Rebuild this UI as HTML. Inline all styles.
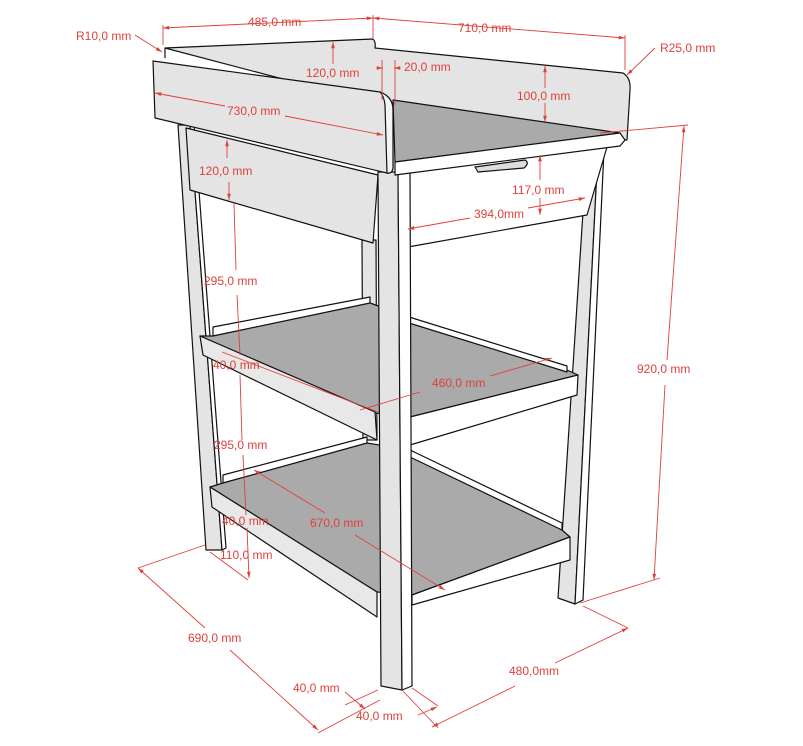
<!DOCTYPE html>
<html><head><meta charset="utf-8"><style>
html,body{margin:0;padding:0;background:#fff;}
svg{display:block;}
text{font-family:"Liberation Sans",sans-serif;font-size:12px;fill:#e0403a;}
</style></head><body>
<svg width="803" height="746" viewBox="0 0 803 746" xmlns="http://www.w3.org/2000/svg">
<defs>
<marker id="a" viewBox="0 0 10 10" refX="10" refY="5" markerWidth="7" markerHeight="7" orient="auto-start-reverse"><path d="M0,2 L10,5 L0,8 z" fill="#e0403a"/></marker>
</defs>
<g stroke="#111" stroke-width="1.2" stroke-linejoin="round">
<!-- back legs -->
<polygon points="362,240 376,240 377,440 363,440" fill="#e4e4e4"/>
<!-- left leg -->
<polygon points="178,125 190,125 222,550 206,550" fill="#e4e4e4"/>
<polygon points="190,125 194,125 226,548 222,550" fill="#fff"/>
<!-- right leg -->
<polygon points="587,150 598,150 575,604 558,598" fill="#e4e4e4"/>
<polygon points="598,150 604,150 583,600 575,604" fill="#fff"/>
<!-- left drawer apron -->
<polygon points="186,128 378,175 373,243 190,190" fill="#e4e4e4"/>
<!-- front apron -->
<polygon points="393,175 607,147 587,215 408,247" fill="#fff"/>
<!-- back rails -->
<polygon points="213,327 370,297 370,305 213,336" fill="#fff"/>
<polygon points="223,475 367,437 367,444 223,483" fill="#fff"/>
<!-- shelf 1 -->
<polygon points="213,336 370,303 409,317 567,370 578,375 410,417 375,413 200,336" fill="#aaa"/>
<polygon points="409,317 567,366 567,372 409,323" fill="#fff"/>
<polygon points="200,336 375,412 377,440 203,355" fill="#e8e8e8"/>
<polygon points="410,417 578,375 577,395 410,445" fill="#fff"/>
<!-- shelf 2 -->
<polygon points="223,483 367,443 410,450 562,530 570,537 412,595 377,592 210,487" fill="#aaa"/>
<polygon points="410,450 562,523 562,530 410,457" fill="#fff"/>
<polygon points="210,487 377,592 377,617 212,507" fill="#e8e8e8"/>
<polygon points="412,595 570,537 570,560 412,605" fill="#fff"/>
<!-- front leg -->
<polygon points="378,172 398,172 402,690 381,686" fill="#e4e4e4"/>
<polygon points="398,172 410,172 412,686 402,690" fill="#fff"/>
<!-- tray back -->
<path d="M165,48 L373,39 Q376,42 375,48 L623,73 Q631,78 630,90 L627,140 L393,108 Z" fill="#e4e4e4"/>
<line x1="165" y1="48" x2="165" y2="58"/>
<!-- floor -->
<polygon points="393,100 620,133 395,162" fill="#aaa"/>
<!-- front rim -->
<polygon points="395,162 620,133 625,140 620,146 395,175" fill="#fff"/>
<!-- left panel -->
<path d="M153,61 L380,92 Q393,97 393,110 L393,168 Q392,174 387,173 L155,118 Z" fill="#e4e4e4"/>
<path d="M380,92 Q393,97 393,110 L393,168 Q392,174 387,173 L385,105 Q384,96 380,92 Z" fill="#f4f4f4"/>
<!-- handle -->
<path d="M475,167 L525,160 Q530,163 524,168 L478,172 Z" fill="#ddd"/>
</g>

<g stroke="#e0403a" stroke-width="0.9" fill="none">
<line x1="135" y1="35" x2="162" y2="52" marker-end="url(#a)"/>
<line x1="163" y1="45" x2="163" y2="25"/><line x1="373" y1="38" x2="373" y2="15"/><line x1="625" y1="70" x2="625" y2="35"/>
<line x1="163" y1="28" x2="373" y2="18" marker-start="url(#a)" marker-end="url(#a)"/>
<line x1="373" y1="18" x2="625" y2="38" marker-start="url(#a)" marker-end="url(#a)"/>
<line x1="655" y1="48" x2="627" y2="75" marker-end="url(#a)"/>
<line x1="333" y1="64" x2="333" y2="42" marker-end="url(#a)"/>
<line x1="377" y1="68" x2="383" y2="68" marker-end="url(#a)"/><line x1="400" y1="68" x2="394" y2="68" marker-end="url(#a)"/>
<line x1="382" y1="60" x2="382" y2="100"/><line x1="395" y1="60" x2="395" y2="105"/>
<line x1="545" y1="88" x2="545" y2="66" marker-end="url(#a)"/><line x1="545" y1="103" x2="545" y2="122" marker-end="url(#a)"/>
<line x1="155" y1="93" x2="225" y2="106" marker-start="url(#a)"/><line x1="285" y1="116" x2="383" y2="135" marker-end="url(#a)"/>
<line x1="227" y1="158" x2="227" y2="140" marker-end="url(#a)"/><line x1="229" y1="182" x2="229" y2="200" marker-end="url(#a)"/>
<line x1="540" y1="180" x2="540" y2="155" marker-end="url(#a)"/><line x1="540" y1="198" x2="540" y2="215" marker-end="url(#a)"/>
<line x1="408" y1="229" x2="470" y2="218" marker-start="url(#a)"/><line x1="528" y1="208" x2="585" y2="198" marker-end="url(#a)"/>
<line x1="600" y1="133" x2="688" y2="125"/><line x1="580" y1="603" x2="660" y2="578"/>
<line x1="667" y1="360" x2="684" y2="126" marker-end="url(#a)"/><line x1="665" y1="385" x2="654" y2="580" marker-end="url(#a)"/>
<line x1="234" y1="203" x2="236" y2="270"/><line x1="237" y1="295" x2="240" y2="355"/><line x1="240" y1="375" x2="242" y2="440"/><line x1="243" y1="455" x2="246" y2="515"/><line x1="247" y1="528" x2="249" y2="578" marker-end="url(#a)"/>
<line x1="360" y1="410" x2="420" y2="392"/><line x1="490" y1="376" x2="552" y2="358" marker-end="url(#a)"/>
<line x1="222" y1="352" x2="378" y2="412"/>
<line x1="254" y1="470" x2="325" y2="513" marker-start="url(#a)"/><line x1="355" y1="535" x2="445" y2="590" marker-end="url(#a)"/>
<line x1="205" y1="545" x2="138" y2="568"/><line x1="210" y1="552" x2="248" y2="580"/>
<line x1="138" y1="568" x2="205" y2="628" marker-start="url(#a)"/><line x1="230" y1="650" x2="318" y2="730" marker-end="url(#a)"/>
<line x1="318" y1="733" x2="380" y2="700"/><line x1="378" y1="690" x2="345" y2="705"/>
<line x1="345" y1="692" x2="365" y2="709" marker-end="url(#a)"/>
<line x1="402" y1="690" x2="438" y2="728"/><line x1="412" y1="688" x2="438" y2="706"/>
<line x1="418" y1="715" x2="437" y2="707" marker-end="url(#a)"/>
<line x1="432" y1="727" x2="515" y2="686" marker-start="url(#a)"/><line x1="555" y1="663" x2="628" y2="628" marker-end="url(#a)"/>
<line x1="583" y1="606" x2="628" y2="628"/>
</g>

<g>
<text x="76" y="40">R10,0 mm</text>
<text x="248" y="26">485,0 mm</text>
<text x="458" y="32">710,0 mm</text>
<text x="660" y="52">R25,0 mm</text>
<text x="306" y="77">120,0 mm</text>
<text x="404" y="71">20,0 mm</text>
<text x="517" y="100">100,0 mm</text>
<text x="227" y="115">730,0 mm</text>
<text x="199" y="175">120,0 mm</text>
<text x="512" y="194">117,0 mm</text>
<text x="474" y="218">394,0mm</text>
<text x="637" y="373">920,0 mm</text>
<text x="204" y="285">295,0 mm</text>
<text x="213" y="369">40,0 mm</text>
<text x="432" y="387">460,0 mm</text>
<text x="214" y="449">295,0 mm</text>
<text x="222" y="525">40,0 mm</text>
<text x="310" y="527">670,0 mm</text>
<text x="220" y="559">110,0 mm</text>
<text x="188" y="642">690,0 mm</text>
<text x="293" y="692">40,0 mm</text>
<text x="356" y="720">40,0 mm</text>
<text x="509" y="675">480,0mm</text>
</g>
</svg>
</body></html>
